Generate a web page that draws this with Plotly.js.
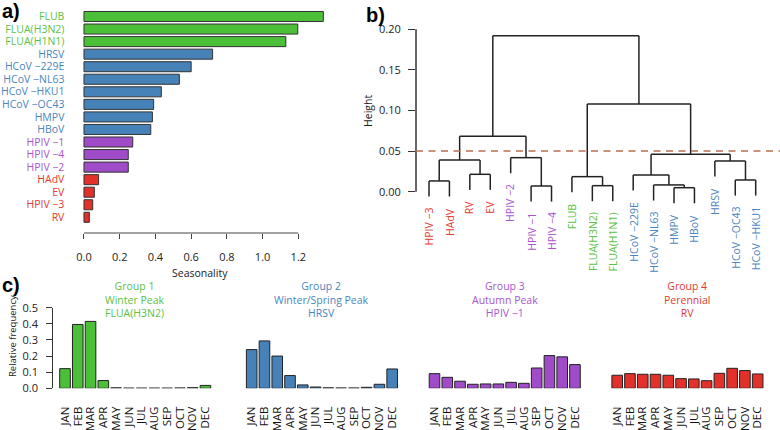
<!DOCTYPE html>
<html>
<head>
<meta charset="utf-8">
<script src="https://cdn.plot.ly/plotly-3.0.1.min.js"></script>
<style>
html, body { margin: 0; padding: 0; background: #fff; }
#chart { width: 780px; height: 430px; }
</style>
</head>
<body>
<div id="chart"></div>
<script>
"use strict";

// a) seasonality per virus, top to bottom
var viruses = ["FLUB", "FLUA(H3N2)", "FLUA(H1N1)", "HRSV", "HCoV \u2212229E", "HCoV \u2212NL63",
	"HCoV \u2212HKU1", "HCoV \u2212OC43", "HMPV", "HBoV", "HPIV \u22121", "HPIV \u22124", "HPIV \u22122",
	"HAdV", "EV", "HPIV \u22123", "RV"];
var seasonality = [1.34, 1.197, 1.13, 0.72, 0.60, 0.534, 0.433, 0.39, 0.383, 0.374,
	0.273, 0.248, 0.248, 0.082, 0.058, 0.049, 0.03];
var virusGroup = [0, 0, 0, 1, 1, 1, 1, 1, 1, 1, 2, 2, 2, 3, 3, 3, 3];
var seasonTicks = [0, 0.2, 0.4, 0.6, 0.8, 1.0, 1.2];

// b) dendrogram, leaves left to right, merges like R hclust (negative = leaf)
var leafOrder = ["HPIV \u22123", "HAdV", "RV", "EV", "HPIV \u22122", "HPIV \u22121", "HPIV \u22124",
	"FLUB", "FLUA(H3N2)", "FLUA(H1N1)", "HCoV \u2212229E", "HCoV \u2212NL63", "HMPV", "HBoV",
	"HRSV", "HCoV \u2212OC43", "HCoV \u2212HKU1"];
var leafGroup = [3, 3, 3, 3, 2, 2, 2, 0, 0, 0, 1, 1, 1, 1, 1, 1, 1];
var mergeA = [-1, -3, 1, -6, -5, 3, -9, -8, -13, -12, -11, -16, -15, 11, 8, 6];
var mergeB = [-2, -4, 2, -7, 4, 5, -10, 7, -14, 9, 10, -17, 12, 13, 14, 15];
var mergeHeight = [0.0132, 0.0214, 0.039, 0.007, 0.0419, 0.0682, 0.0074, 0.0185,
	0.0049, 0.0083, 0.0206, 0.0144, 0.0378, 0.046, 0.108, 0.192];
var cutHeight = 0.05;
var heightTicks = [0, 0.05, 0.10, 0.15, 0.20];

// c) monthly relative frequency of one example per group
var months = ["JAN", "FEB", "MAR", "APR", "MAY", "JUN", "JUL", "AUG", "SEP", "OCT", "NOV", "DEC"];
var freqH3N2 = [0.122, 0.396, 0.415, 0.048, 0.003, 0.001, 0.001, 0.001, 0.001, 0.002, 0.004, 0.018];
var freqHRSV = [0.24, 0.294, 0.2, 0.079, 0.021, 0.008, 0.003, 0.002, 0.002, 0.006, 0.025, 0.12];
var freqHPIV1 = [0.091, 0.068, 0.044, 0.025, 0.027, 0.027, 0.037, 0.031, 0.126, 0.203, 0.195, 0.147];
var freqRV = [0.081, 0.091, 0.087, 0.087, 0.081, 0.06, 0.058, 0.047, 0.093, 0.124, 0.11, 0.089];
var groupNames = ["Group 1", "Group 2", "Group 3", "Group 4"];
var groupPeaks = ["Winter Peak", "Winter/Spring Peak", "Autumn Peak", "Perennial"];
var groupExamples = ["FLUA(H3N2)", "HRSV", "HPIV \u22121", "RV"];
var freqTicks = [0, 0.1, 0.2, 0.3, 0.4, 0.5];

var barColors = ["#4cbf38", "#4682b8", "#a04cc8", "#e2302a"];
var textColors = ["#5cc244", "#4a86bd", "#a855d0", "#e23a30"];

var W = 780, H = 430;
function px(x) { return x / W; }
function py(y) { return 1 - y / H; }

var FONT = "Open Sans, DejaVu Sans, sans-serif";
var INK = "#222";

var data = [], shapes = [], annotations = [];
var layout = {
	width: W, height: H,
	margin: { l: 0, r: 0, t: 0, b: 0 },
	paper_bgcolor: "#fff", plot_bgcolor: "rgba(0,0,0,0)",
	showlegend: false,
	font: { family: FONT, size: 11, color: INK }
};

function label(text, x, y, opts) {
	var a = { text: text, xref: "paper", yref: "paper", x: px(x), y: py(y), xanchor: "center", yanchor: "middle", showarrow: false, font: { size: 11 } };
	for (var k in opts) a[k] = opts[k];
	annotations.push(a);
}

// ---------- a) ----------
var idx = viruses.map(function(v, i) { return i; });
data.push({
	type: "bar", orientation: "h", x: seasonality, y: idx, width: 0.8,
	marker: { color: virusGroup.map(function(g) { return barColors[g]; }), line: { color: "#333", width: 1 } },
	xaxis: "x", yaxis: "y", hoverinfo: "skip"
});
layout.xaxis = {
	domain: [px(80.4), px(326.9)], range: [-0.02, 1.36], anchor: "y",
	tickvals: seasonTicks, ticktext: seasonTicks.map(function(v) { return v.toFixed(1); }),
	ticks: "outside", ticklen: 5, tickcolor: "#444", showline: false, showgrid: false, zeroline: false,
	ticklabelstandoff: 9, tickfont: { size: 11 }
};
layout.yaxis = {
	domain: [py(233), 1], range: [17.25, -1.315], anchor: "x",
	tickvals: idx,
	ticktext: viruses.map(function(v, i) { return '<span style="color:' + textColors[virusGroup[i]] + '">' + v + "</span>"; }),
	ticks: "", showline: false, showgrid: false, zeroline: false,
	ticklabelstandoff: 15, tickfont: { size: 10.5 }
};
shapes.push({ type: "line", xref: "x", yref: "y domain", x0: 0, x1: 1.2, y0: 0, y1: 0, line: { color: "#444", width: 1 } });
label("Seasonality", 200, 273, { font: { size: 10.5 } });
label("<b>a)</b>", 0, 0, { xanchor: "left", yanchor: "top", yshift: 2, font: { family: "Liberation Sans, Arial, sans-serif", size: 20, color: "#000" } });

// ---------- b) ----------
var hang = 0.1 * Math.max.apply(null, mergeHeight);
var nodeX = [], dx = [], dy = [];
var leafBottom = [];
for (var m = 0; m < mergeHeight.length; m++) {
	var h = mergeHeight[m];
	var kids = [mergeA[m], mergeB[m]], kx = [];
	kids.forEach(function(k) {
		var x, y0;
		if (k < 0) {
			x = -k;
			y0 = h - hang;
			leafBottom[-k - 1] = y0;
		} else {
			x = nodeX[k - 1];
			y0 = mergeHeight[k - 1];
		}
		kx.push(x);
		dx.push(x, x, null);
		dy.push(y0, h, null);
	});
	dx.push(kx[0], kx[1], null);
	dy.push(h, h, null);
	nodeX[m] = (kx[0] + kx[1]) / 2;
}
data.push({
	type: "scatter", mode: "lines", x: dx, y: dy, xaxis: "x2", yaxis: "y2",
	line: { color: INK, width: 1.5 }, hoverinfo: "skip"
});
layout.xaxis2 = { domain: [px(416), 1], range: [0.363, 18.19], anchor: "y2", visible: false };
layout.yaxis2 = {
	domain: [py(255), py(20)], range: [-0.078, 0.21145], anchor: "x2",
	tickvals: heightTicks, ticktext: heightTicks.map(function(v) { return v.toFixed(2); }),
	ticks: "outside", ticklen: 7, tickcolor: "#333", showline: false, showgrid: false, zeroline: false,
	ticklabelstandoff: 5, tickfont: { size: 11 }
};
shapes.push({ type: "line", xref: "x2 domain", yref: "y2", x0: 0, x1: 0, y0: 0, y1: 0.2, line: { color: "#333", width: 1.5 } });
shapes.push({ type: "line", xref: "x2 domain", yref: "y2", x0: 0, x1: 1, y0: cutHeight, y1: cutHeight, line: { color: "#b87050", width: 1.5, dash: "7px,5.5px" } });
leafOrder.forEach(function(name, i) {
	annotations.push({
		text: name, xref: "x2", yref: "y2", x: i + 1, y: leafBottom[i], yshift: -9,
		xanchor: "center", yanchor: "top", textangle: -90, showarrow: false,
		font: { size: 10.5, color: textColors[leafGroup[i]] }
	});
});
label("Height", 368, 111, { textangle: -90, font: { size: 10.5 } });
label("<b>b)</b>", 364, 0, { xanchor: "left", yanchor: "top", yshift: -2, font: { family: "Liberation Sans, Arial, sans-serif", size: 20, color: "#000" } });

// ---------- c) ----------
var freqs = [freqH3N2, freqHRSV, freqHPIV1, freqRV];
var janCenter = [65, 251.7, 434.5, 617.2];
var step = 12.77;
freqs.forEach(function(f, g) {
	var n = g + 3, xa = "x" + n, ya = "y" + n;
	data.push({
		type: "bar", x: months, y: f, width: 0.83, xaxis: xa, yaxis: ya,
		marker: { color: barColors[g], line: { color: "#222", width: 1 } }, hoverinfo: "skip"
	});
	layout["xaxis" + n] = {
		domain: [px(janCenter[g] - 0.92 * step), px(janCenter[g] + 11.92 * step)],
		range: [-0.92, 11.92], type: "category", anchor: ya,
		tickmode: "array", tickvals: months, ticktext: months,
		tickangle: -90, ticks: "", showline: false, showgrid: false, zeroline: false,
		ticklabelstandoff: 15, tickfont: { size: 11.5, color: "#111" }
	};
	var yax = {
		domain: [py(388.3), py(307.7)], range: [0, 0.5], anchor: xa,
		showgrid: false, zeroline: false
	};
	if (g === 0) {
		yax.tickvals = freqTicks;
		yax.ticktext = freqTicks.map(function(v) { return v.toFixed(1); });
		yax.ticks = "outside"; yax.ticklen = 6; yax.tickcolor = "#333";
		yax.showline = true; yax.linecolor = "#333"; yax.linewidth = 1;
		yax.ticklabelstandoff = 6; yax.tickfont = { size: 11 };
	} else {
		yax.visible = false;
	}
	layout["yaxis" + n] = yax;
	annotations.push({
		text: groupNames[g] + "<br>" + groupPeaks[g] + "<br>" + groupExamples[g],
		xref: xa, yref: "paper", x: 5.5, y: py(299), xanchor: "center", yanchor: "middle",
		showarrow: false, align: "center", font: { size: 10.5, color: textColors[g] }
	});
});
label("Relative frequency", 12, 336, { textangle: -90, font: { size: 9.5 } });
label("<b>c)</b>", 0, 272, { xanchor: "left", yanchor: "top", font: { family: "Liberation Sans, Arial, sans-serif", size: 20, color: "#000" } });

layout.shapes = shapes;
layout.annotations = annotations;

Plotly.newPlot("chart", data, layout, { displayModeBar: false, staticPlot: true });
</script>
</body>
</html>
